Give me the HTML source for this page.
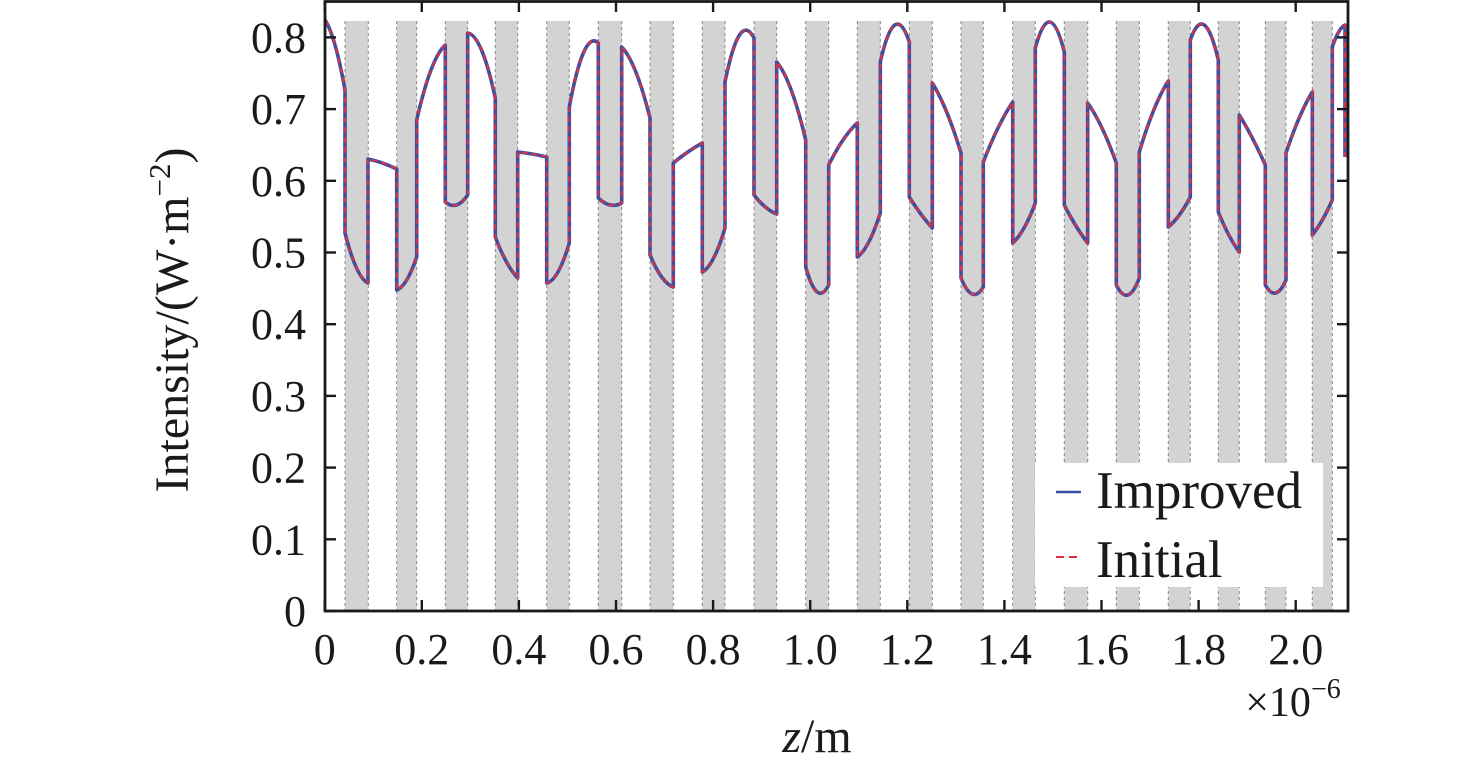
<!DOCTYPE html>
<html><head><meta charset="utf-8"><style>
html,body{margin:0;padding:0;background:#fff;}
svg{display:block;font-family:"Liberation Serif",serif;}
</style></head><body>
<svg id="s" width="1476" height="766" viewBox="0 0 1476 766" xmlns="http://www.w3.org/2000/svg">
<g id="bars"></g>
<rect x="1035" y="463" width="288" height="124" fill="#fff"/>
<path id="blue" fill="none" stroke="#3a4fa3" stroke-width="3.6" stroke-linejoin="round"/>
<path id="red" fill="none" stroke="#e0303f" stroke-width="2" stroke-dasharray="6,4"/>
<g stroke="#1a1a1a" stroke-width="2.8" fill="none">
<rect x="325" y="1.5" width="1023" height="609.5"/>
</g>
<g id="ticks" stroke="#1a1a1a" stroke-width="2.4"></g>
<g font-size="44" fill="#1a1a1a" text-anchor="end" id="yl"></g>
<g font-size="44" fill="#1a1a1a" text-anchor="middle" id="xl"></g>
<text x="1293" y="716" font-size="42" fill="#1a1a1a" text-anchor="middle">×10<tspan dy="-18" font-size="28">−6</tspan></text>
<text x="817" y="752" font-size="48" fill="#1a1a1a" text-anchor="middle"><tspan font-style="italic">z</tspan>/m</text>
<text transform="translate(188,320) rotate(-90)" font-size="48" fill="#1a1a1a" text-anchor="middle">Intensity/(W·m<tspan dy="-18" font-size="31">−2</tspan><tspan dy="18">)</tspan></text>
<line x1="1056" y1="492" x2="1081" y2="492" stroke="#3a4fa3" stroke-width="2.5"/>
<text x="1096" y="508" font-size="53" fill="#1a1a1a">Improved</text>
<line x1="1056" y1="557" x2="1081" y2="557" stroke="#e0303f" stroke-width="2" stroke-dasharray="8,5"/>
<text x="1096" y="577" font-size="53" fill="#1a1a1a">Initial</text>
</svg>
<script>
var NS="http://www.w3.org/2000/svg";
function el(t,a,p){var e=document.createElementNS(NS,t);for(var k in a)e.setAttribute(k,a[k]);p.appendChild(e);return e;}
var bars=[[345,368.3],[396.7,416.7],[445.3,467.7],[495.3,517.7],[546.7,569.3],[598.3,621.7],[650,673.3],[702.3,725],[754,776.7],[805.7,828.7],[857.3,880.3],[909.3,932.3],[961,983.3],[1012.7,1035.3],[1064.3,1087.7],[1116.3,1139.3],[1168.3,1190.3],[1218.3,1239.3],[1265.3,1286],[1312.3,1332.3]];
var bg=document.getElementById('bars');
bars.forEach(function(b){
 el('rect',{x:b[0],y:21,width:b[1]-b[0],height:590,fill:'#d3d3d3'},bg);
 el('line',{x1:b[0],y1:21,x2:b[0],y2:611,stroke:'#888',"stroke-width":1,"stroke-dasharray":"3,3"},bg);
 el('line',{x1:b[1],y1:21,x2:b[1],y2:611,stroke:'#888',"stroke-width":1,"stroke-dasharray":"3,3"},bg);
});
var seg=[[325,20,45,345,90],[345,233,268,368,283],[368,159,163,396.7,169],[396.7,290,280,416.7,257],[416.7,120,70,445.3,45],[445.3,202,205,467.7,195],[467.7,33,50,495.3,98],[495.3,237,262,517.7,278],[517.7,152,154,546.7,157],[546.7,283,272,569.3,243],[569.3,107,52,598.3,43],[598.3,198,205,621.7,203],[621.7,47,72,650,118],[650,255,277,673.3,287],[673.3,163,152,702.3,143],[702.3,272,258,725,228],[725,82,35,754,38],[754,195,207,776.7,214],[776.7,62,90,805.7,140],[805.7,267,292,828.7,285],[828.7,165,140,857.3,123],[857.3,257,242,880.3,213],[880.3,62,25,909.3,42],[909.3,197,214,932.3,228],[932.3,83,112,961,153],[961,278,294,983.3,287],[983.3,162,128,1012.7,102],[1012.7,243,228,1035.3,203],[1035.3,48,22,1064.3,52],[1064.3,205,226,1087.7,243],[1087.7,103,128,1116.3,163],[1116.3,285,295,1139.3,278],[1139.3,152,110,1168.3,81],[1168.3,227,215,1190.3,197],[1190.3,40,25,1218.3,60],[1218.3,212,235,1239.3,252],[1239.3,115,138,1265.3,165],[1265.3,285,293,1286,280],[1286,153,118,1312.3,92],[1312.3,235,220,1332.3,200],[1332.3,47,32,1345,25]];
var d="";
seg.forEach(function(s,i){
 var cx=(s[0]+s[3])/2, cy=2*s[2]-(s[1]+s[4])/2;
 d+=(i==0?"M":"L")+s[0]+","+s[1]+" Q"+cx+","+cy+" "+s[3]+","+s[4]+" ";
});
d+="L1345,157";
document.getElementById('blue').setAttribute('d',d);
document.getElementById('red').setAttribute('d',d);
var tk=document.getElementById('ticks'),yl=document.getElementById('yl'),xl=document.getElementById('xl');
for(var i=0;i<=8;i++){var y=611-71.7*i;
 el('line',{x1:325,y1:y,x2:336,y2:y},tk);el('line',{x1:1337,y1:y,x2:1348,y2:y},tk);
 var t=el('text',{x:306,y:y+15},yl);t.textContent=i==0?"0":"0."+i;}
for(var i=0;i<=10;i++){var x=324.7+48.55*2*i;
 el('line',{x1:x,y1:611,x2:x,y2:600},tk);el('line',{x1:x,y1:1,x2:x,y2:12},tk);
 var t=el('text',{x:x,y:664},xl);t.textContent=i==0?"0":(i*0.2).toFixed(1);}
</script>
</body></html>
